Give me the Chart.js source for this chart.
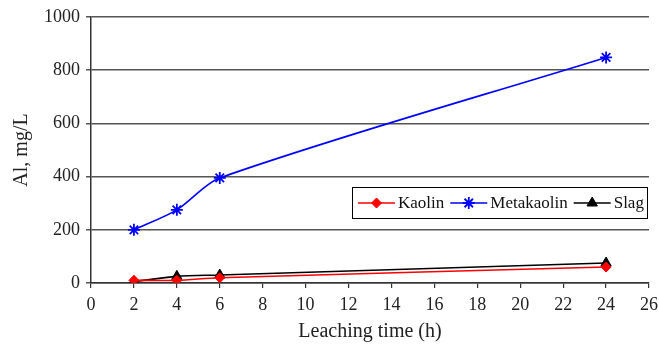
<!DOCTYPE html>
<html>
<head>
<meta charset="utf-8">
<script src="https://cdn.jsdelivr.net/npm/chart.js@4/dist/chart.umd.min.js"></script>
<style>
  html, body { margin: 0; padding: 0; background: #fff; }
  #wrap { width: 659px; height: 344px; }
</style>
</head>
<body>
<div id="wrap"><canvas id="c" width="659" height="344"></canvas></div>
<script>
// Leaching time (h) and dissolved Al (mg/L)
const hours = [2, 4, 6, 24];
const kaolin = [10, 10, 20, 60];
const metakaolin = [200, 275, 395, 848];
const slag = [5, 25, 30, 75];
const xTicks = [0, 2, 4, 6, 8, 10, 12, 14, 16, 18, 20, 22, 24, 26];
const yTicks = [0, 200, 400, 600, 800, 1000];

const serif = "'Liberation Serif', 'Times New Roman', serif";
const pts = vals => hours.map((h, i) => ({ x: h, y: vals[i] }));

// Boxed legend drawn inside the plot area, lower right
const boxLegend = {
  id: 'boxLegend',
  afterDraw(chart) {
    const ctx = chart.ctx;
    const area = chart.chartArea;
    const sets = chart.data.datasets;
    ctx.save();
    ctx.font = '17px ' + serif;
    const lineLen = 37, gapAfterLine = 3, gapAfterText = 6, padL = 6, padR = 3;
    let w = padL + padR;
    sets.forEach(ds => { w += lineLen + gapAfterLine + ctx.measureText(ds.label).width + gapAfterText; });
    w -= gapAfterText;
    const h = 31;
    const right = area.right - 2;
    const left = Math.round(right - w);
    const top = Math.round(area.top + 170);
    ctx.fillStyle = '#fff';
    ctx.fillRect(left, top, right - left, h);
    ctx.strokeStyle = '#000';
    ctx.lineWidth = 1;
    ctx.strokeRect(left + 0.5, top + 0.5, Math.round(right - left), h);
    const cy = top + h / 2 + 0.5;
    let x = left + padL;
    sets.forEach(ds => {
      ctx.strokeStyle = ds.borderColor;
      ctx.lineWidth = 1.6;
      ctx.beginPath();
      ctx.moveTo(x, cy);
      ctx.lineTo(x + lineLen, cy);
      ctx.stroke();
      ctx.fillStyle = ds.pointBackgroundColor;
      ctx.strokeStyle = ds.pointBorderColor;
      ctx.lineWidth = ds.pointBorderWidth;
      Chart.helpers.drawPoint(ctx, {
        pointStyle: ds.pointStyle,
        rotation: 0,
        radius: ds.pointRadius,
        borderWidth: ds.pointBorderWidth
      }, x + lineLen / 2, cy);
      x += lineLen + gapAfterLine;
      ctx.fillStyle = '#111';
      ctx.textBaseline = 'middle';
      ctx.textAlign = 'left';
      ctx.fillText(ds.label, x, cy + 1);
      x += ctx.measureText(ds.label).width + gapAfterText;
    });
    ctx.restore();
  }
};

new Chart(document.getElementById('c'), {
  type: 'line',
  data: {
    datasets: [
      {
        label: 'Kaolin', data: pts(kaolin),
        borderColor: '#ff0000', backgroundColor: '#ff0000',
        pointStyle: 'rectRot', pointRadius: 5,
        pointBackgroundColor: '#ff0000', pointBorderColor: '#ff0000', pointBorderWidth: 1,
        borderWidth: 1.6, tension: 0.3
      },
      {
        label: 'Metakaolin', data: pts(metakaolin),
        borderColor: '#0000ff', backgroundColor: '#0000ff',
        pointStyle: 'star', pointRadius: 6,
        pointBackgroundColor: '#0000ff', pointBorderColor: '#0000ff', pointBorderWidth: 1.8,
        borderWidth: 1.6, tension: 0.3
      },
      {
        label: 'Slag', data: pts(slag),
        borderColor: '#000000', backgroundColor: '#000000',
        pointStyle: 'triangle', pointRadius: 6,
        pointBackgroundColor: '#000000', pointBorderColor: '#000000', pointBorderWidth: 1,
        borderWidth: 1.6, tension: 0.3
      }
    ]
  },
  options: {
    responsive: false,
    animation: false,
    layout: { padding: { top: 17, right: 10, left: 0, bottom: 0 } },
    plugins: { legend: { display: false }, tooltip: { enabled: false } },
    scales: {
      x: {
        type: 'linear', min: 0, max: 26,
        afterBuildTicks: s => { s.ticks = xTicks.map(v => ({ value: v })); },
        afterFit: s => { s.height = 61; s.paddingLeft = 0; s.paddingRight = 0; },
        grid: { drawOnChartArea: false, drawTicks: true, tickLength: 5, color: '#333', lineWidth: 1.2 },
        border: { color: '#333', width: 1.5 },
        ticks: { color: '#222', font: { family: serif, size: 18 }, padding: 6, maxRotation: 0 },
        title: { display: true, text: 'Leaching time (h)', color: '#222', font: { family: serif, size: 20 }, padding: { top: 0, bottom: 0 } }
      },
      y: {
        min: 0, max: 1000,
        afterBuildTicks: s => { s.ticks = yTicks.map(v => ({ value: v })); },
        afterFit: s => { s.width = 91; s.paddingTop = 0; s.paddingBottom = 0; },
        grid: { drawOnChartArea: true, drawTicks: true, tickLength: 5, color: '#555', lineWidth: 1.5 },
        border: { color: '#333', width: 1.5 },
        ticks: { color: '#222', font: { family: serif, size: 18 }, padding: 6, callback: v => String(v) },
        title: { display: true, text: 'Al, mg/L', color: '#222', font: { family: serif, size: 20 }, padding: { top: 10, bottom: 0 } }
      }
    }
  },
  plugins: [boxLegend]
});
</script>
</body>
</html>
